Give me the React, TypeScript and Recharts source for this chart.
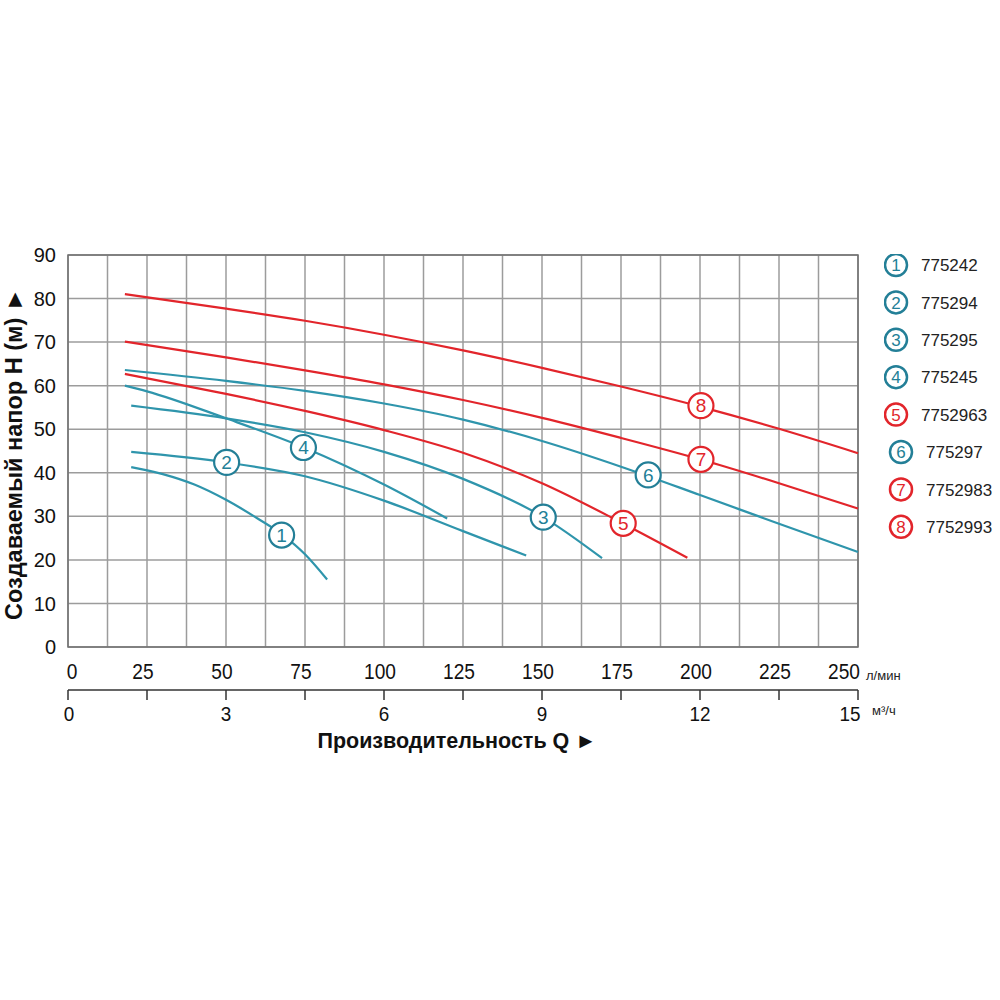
import React from 'react';
import {
  ComposedChart, Line, XAxis, YAxis, CartesianGrid, ReferenceDot, ReferenceArea, Legend,
} from 'recharts';

// flow, l/min  ->  head, m
const q1 = [20, 30, 40, 50, 60, 68, 75, 82];
const h1 = [41.3, 39.7, 37.3, 33.8, 29.5, 25.7, 21.3, 15.5];
const q2 = [20, 50, 75, 100, 125, 145];
const h2 = [44.8, 42.4, 39.2, 33.6, 26.6, 21.0];
const q3 = [20, 50, 75, 100, 125, 150, 169];
const h3 = [55.4, 52.5, 49.3, 44.8, 38.6, 30.0, 20.4];
const q4 = [18, 25, 50, 75, 100, 120];
const h4 = [60.0, 58.7, 52.5, 45.7, 37.3, 29.5];
const q5 = [18, 50, 75, 100, 125, 150, 175, 196];
const h5 = [62.7, 58.1, 54.2, 49.8, 44.6, 37.6, 28.6, 20.5];
const q6 = [18, 50, 75, 100, 125, 150, 175, 200, 225, 250];
const h6 = [63.6, 61.1, 58.8, 55.9, 52.2, 47.3, 41.4, 34.9, 28.3, 21.8];
const q7 = [18, 50, 75, 100, 125, 150, 175, 200, 225, 250];
const h7 = [70.1, 66.5, 63.5, 60.3, 56.7, 52.6, 48.0, 43.1, 37.6, 31.8];
const q8 = [18, 50, 75, 100, 125, 150, 175, 200, 225, 250];
const h8 = [81.0, 77.7, 74.9, 71.7, 68.1, 64.1, 59.8, 55.2, 50.1, 44.5];

const models = ['775242', '775294', '775295', '775245', '7752963', '775297', '7752983', '7752993'];
const isRed = [false, false, false, false, true, false, true, true];
// where the numbered circle sits on each curve
const labelQ = [67.6, 50.2, 150.4, 74.5, 175.7, 183.6, 200.3, 200.3];
const labelH = [25.7, 42.4, 29.8, 45.8, 28.4, 39.5, 43.1, 55.4];

const lpmTicks = [0, 12.5, 25, 37.5, 50, 62.5, 75, 87.5, 100, 112.5, 125, 137.5, 150, 162.5, 175, 187.5, 200, 212.5, 225, 237.5, 250];
const m3Ticks = [0, 1.5, 3, 4.5, 6, 7.5, 9, 10.5, 12, 13.5, 15];
const headTicks = [0, 10, 20, 30, 40, 50, 60, 70, 80, 90];
const LPM_TO_M3H = 0.06;

const TEAL = '#2f95ac';
const TEAL_DARK = '#237f97';
const RED = '#e2252b';
const FONT = "'Liberation Sans', Arial, sans-serif";

const curves = [[q1, h1], [q2, h2], [q3, h3], [q4, h4], [q5, h5], [q6, h6], [q7, h7], [q8, h8]]
  .map(([q, h]) => q.map((x, i) => ({ q: x, h: h[i] })));
// the widest curve again, in m³/h, so the second flow axis has a series to scale on
const m3Curve = q8.map((x, i) => ({ m3: x * LPM_TO_M3H, h: h8[i] }));

const NarrowTick = ({ x, y, payload, step, size, sx, max, first, last, shift }: any) => {
  const v = payload.value;
  if (Math.abs(v / step - Math.round(v / step)) > 1e-6) return null;
  const dx = v === 0 ? first : v === max ? last : shift;
  return (
    <g transform={`translate(${x + dx},${y})`}>
      <text transform={`scale(${sx},1)`} textAnchor="middle" dy="0.71em" fill="#111" fontSize={size} fontFamily={FONT}>
        {v}
      </text>
    </g>
  );
};

const renderLegend = () => (
  <svg width={120} height={300}>
    {models.map((m, i) => {
      const c = isRed[i] ? RED : TEAL_DARK;
      const shift = i >= 5 ? 5 : 0;
      const y = 11 + i * 37.4;
      return (
        <g key={m}>
          <circle cx={12 + shift} cy={y} r={11} fill="#fff" stroke={c} strokeWidth={2.5} />
          <text x={12 + shift} y={y} dy="0.36em" textAnchor="middle" fill={c} fontSize={17} fontFamily={FONT}>
            {i + 1}
          </text>
          <text x={37 + shift} y={y} dy="0.36em" fill="#222" fontSize={17} fontFamily={FONT}>{m}</text>
        </g>
      );
    })}
  </svg>
);

export default function App() {
  return (
    <div style={{ position: 'absolute', left: 0, top: 0, background: '#fff' }}>
      <ComposedChart width={1000} height={1000} margin={{ top: 255, right: 142, left: 28, bottom: 270 }}>
        <CartesianGrid stroke="#9c9c9c" strokeWidth={1.5} />
        <ReferenceArea x1={0} x2={250} y1={0} y2={90} fill="none" stroke="#707070" strokeWidth={1.5} />
        <XAxis
          dataKey="q" type="number" domain={[0, 250]} ticks={lpmTicks} interval={0}
          axisLine={false} tickLine={false} tickMargin={10} height={43}
          tick={<NarrowTick step={25} size={22} sx={0.87} max={250} first={4} last={-14} shift={-4} />}
          label={({ viewBox }: any) => (
            <text x={viewBox.x + viewBox.width + 8} y={viewBox.y + 33} fill="#222" fontSize={13} fontFamily={FONT}>л/мин</text>
          )}
        />
        <XAxis
          xAxisId="m3" dataKey="m3" type="number" domain={[0, 15]} ticks={m3Ticks} interval={0} allowDataOverflow
          axisLine={{ stroke: '#333', strokeWidth: 1.5 }} tickLine={{ stroke: '#333', strokeWidth: 1.5 }}
          tickSize={10} tickMargin={6} height={40}
          tick={<NarrowTick step={3} size={21} sx={0.9} max={15} first={1} last={-8} shift={0} />}
          label={({ viewBox }: any) => (
            <g>
              <text x={viewBox.x + viewBox.width + 14} y={viewBox.y + 25} fill="#222" fontSize={13} fontFamily={FONT}>м³/ч</text>
              <text x={viewBox.x + viewBox.width / 2 - 6} y={viewBox.y + 58} textAnchor="middle" fill="#111" fontSize={21.5} fontWeight="bold" fontFamily={FONT}>
                Производительность Q ►
              </text>
            </g>
          )}
        />
        <YAxis
          type="number" domain={[0, 90]} ticks={headTicks} interval={0} width={40}
          axisLine={false} tickLine={false} tickMargin={6}
          tick={{ fill: '#111', fontSize: 20, fontFamily: FONT }}
          label={({ viewBox }: any) => {
            const cx = viewBox.x - 14;
            const cy = viewBox.y + viewBox.height / 2 + 3;
            return (
              <text x={cx} y={cy} transform={`rotate(-90, ${cx}, ${cy})`} dy="0.36em" textAnchor="middle" fill="#111" fontSize={23.5} fontWeight="bold" fontFamily={FONT}>
                Создаваемый напор H (м) ►
              </text>
            );
          }}
        />
        <Line xAxisId="m3" data={m3Curve} dataKey="h" stroke="none" dot={false} activeDot={false} isAnimationActive={false} />
        {curves.map((d, i) => (
          <Line key={models[i]} data={d} dataKey="h" type="monotone" stroke={isRed[i] ? RED : TEAL}
            strokeWidth={2.2} dot={false} activeDot={false} isAnimationActive={false} />
        ))}
        {labelQ.map((x, i) => (
          <ReferenceDot key={'l' + i} x={x} y={labelH[i]} r={12.5} fill="#fff"
            stroke={isRed[i] ? RED : TEAL_DARK} strokeWidth={2.2}
            label={{ value: String(i + 1), position: 'center', fill: isRed[i] ? RED : TEAL_DARK, fontSize: 19, fontFamily: FONT }} />
        ))}
        <Legend layout="vertical" align="center" verticalAlign="middle" content={renderLegend}
          wrapperStyle={{ left: 884, top: 254, width: 120, height: 300 }} />
      </ComposedChart>
    </div>
  );
}
